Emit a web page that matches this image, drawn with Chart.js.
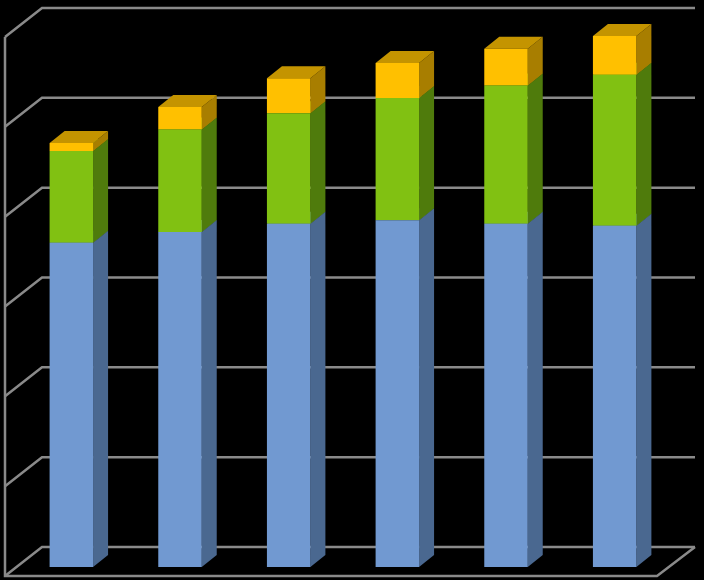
<!DOCTYPE html>
<html>
<head>
<meta charset="utf-8">
<script src="https://cdn.jsdelivr.net/npm/chart.js@4"></script>
<style>
html,body{margin:0;padding:0;background:#000;}
#wrap{width:704px;height:580px;}
</style>
</head>
<body>
<div id="wrap"><canvas id="chart" width="704" height="580"></canvas></div>
<script>
// values (one unit = one gridline step)
const categories=["1","2","3","4","5","6"];
const blueVals=[3.61,3.73,3.82,3.86,3.82,3.80];
const greenVals=[1.02,1.14,1.23,1.36,1.54,1.68];
const yellowVals=[0.09,0.25,0.39,0.39,0.41,0.43];
const gridTicks=[0,1,2,3,4,5,6];

// depth offsets of the fake 3d box
const BACK={dx:25,dy:-20},FRONT={dx:-12,dy:9},DEPTH={dx:15,dy:-12};
const sideCols=["#4a6890","#4f7b0c","#a87e00"];
const topCols=["#5d80b0","#67a00e","#c49400"];

const box3d={
id:"box3d",
beforeDatasetsDraw(chart){
let ctx=chart.ctx,a=chart.chartArea,ys=chart.scales.y;
ctx.save();
ctx.strokeStyle="#8a8a8a";ctx.lineWidth=2.5;ctx.lineJoin="miter";
// back wall lines + left wall diagonals
gridTicks.forEach(t=>{
let y=ys.getPixelForValue(t);
ctx.beginPath();
ctx.moveTo(a.left+FRONT.dx,y+FRONT.dy);
ctx.lineTo(a.left+BACK.dx,y+BACK.dy);
ctx.lineTo(a.right+BACK.dx+1,y+BACK.dy);
ctx.stroke();
});
let yTop=ys.getPixelForValue(gridTicks[gridTicks.length-1]),y0=ys.getPixelForValue(0);
ctx.beginPath();
ctx.moveTo(a.left+FRONT.dx,yTop+FRONT.dy);
ctx.lineTo(a.left+FRONT.dx,y0+FRONT.dy);
ctx.lineTo(a.right+FRONT.dx,y0+FRONT.dy);
ctx.lineTo(a.right+BACK.dx+1,y0+BACK.dy);
ctx.stroke();
// sides and tops of bars, fronts drawn by chart.js on top
let n=chart.data.datasets.length;
for(let j=0;j<categories.length;j++){
for(let i=0;i<n;i++){
let b=chart.getDatasetMeta(i).data[j];
let l=b.x-b.width/2,r=b.x+b.width/2,top=b.y,bot=b.base;
ctx.fillStyle=sideCols[i];
ctx.beginPath();
ctx.moveTo(r,bot);ctx.lineTo(r,top);
ctx.lineTo(r+DEPTH.dx,top+DEPTH.dy);ctx.lineTo(r+DEPTH.dx,bot+DEPTH.dy);
ctx.closePath();ctx.fill();
ctx.fillStyle=topCols[i];
ctx.beginPath();
ctx.moveTo(l,top);ctx.lineTo(r,top);
ctx.lineTo(r+DEPTH.dx,top+DEPTH.dy);ctx.lineTo(l+DEPTH.dx,top+DEPTH.dy);
ctx.closePath();ctx.fill();
}
}
ctx.restore();
}
};

new Chart(document.getElementById("chart"),{
type:"bar",
data:{labels:categories,datasets:[
{label:"A",data:blueVals,backgroundColor:"#7199d1"},
{label:"B",data:greenVals,backgroundColor:"#81c112"},
{label:"C",data:yellowVals,backgroundColor:"#ffc000"}
]},
options:{
responsive:false,animation:false,devicePixelRatio:1,
layout:{padding:{left:17,right:35,top:28,bottom:13}},
datasets:{bar:{barPercentage:0.4,categoryPercentage:1,borderWidth:0}},
plugins:{legend:{display:false},tooltip:{enabled:false}},
scales:{
x:{stacked:true,display:false},
y:{stacked:true,display:false,min:0,max:6}
}
},
plugins:[box3d]
});
</script>
</body>
</html>
